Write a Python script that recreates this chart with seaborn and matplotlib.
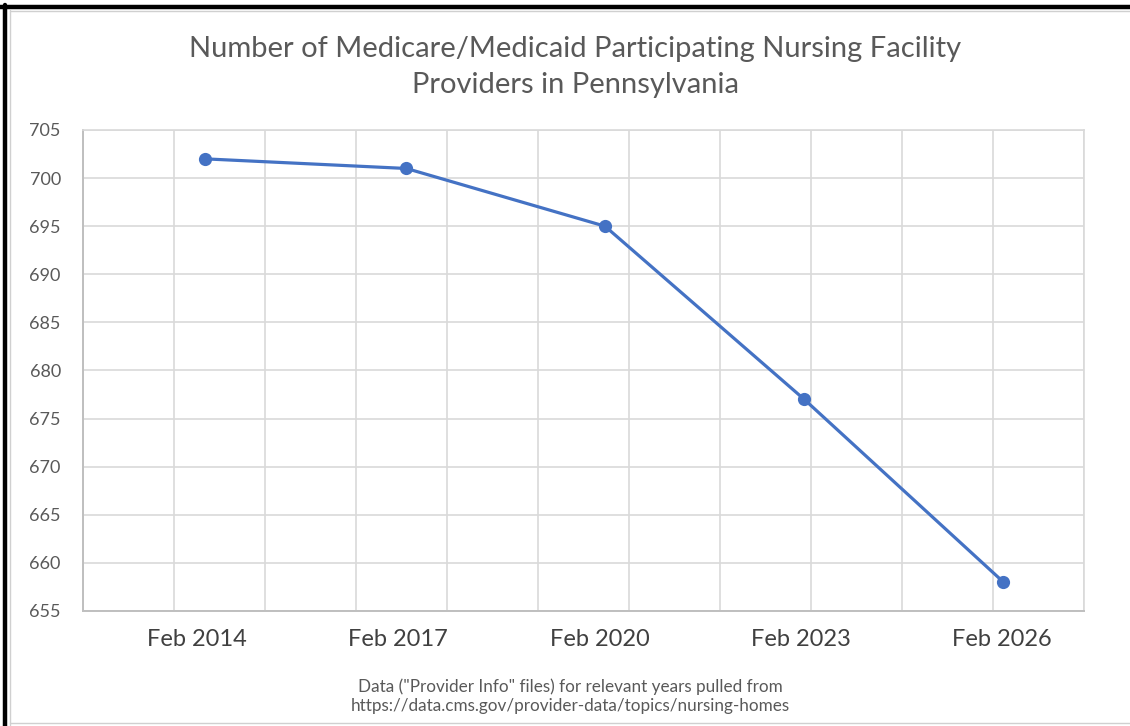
import numpy as np
import pandas as pd
import matplotlib
matplotlib.use('Agg')
import matplotlib.pyplot as plt
from matplotlib.lines import Line2D
import seaborn as sns

# Values (x as decimal years, labels sit on Feb of each year)
point_years = [2014.12, 2017.12, 2020.08, 2023.05, 2026.02]
providers = [702, 701, 695, 677, 658]
label_years = [2014, 2017, 2020, 2023, 2026]
label_text = ['Feb 2014', 'Feb 2017', 'Feb 2020', 'Feb 2023', 'Feb 2026']
y_ticks = list(range(655, 706, 5))

df = pd.DataFrame({'year': point_years, 'providers': providers})

sns.set_theme(style='white')
plt.rcParams['font.family'] = ['Lato', 'DejaVu Sans']

blue = '#4472C4'
grey_text = '#595959'
grid_col = '#D9D9D9'

fig = plt.figure(figsize=(11.3, 7.26), dpi=100)
ax = fig.add_axes([83 / 1130, 1 - 611 / 726, 1001 / 1130, 481 / 726])

sns.lineplot(data=df, x='year', y='providers', ax=ax, color=blue, linewidth=2.3,
             marker='o', markersize=9.5, markeredgewidth=0, markerfacecolor=blue)

# axis range and Excel-like grid (vertical grid every ~1.36 years)
x_left, x_right = 2012.30, 2027.22
ax.set_xlim(x_left, x_right)
ax.set_ylim(655, 705)
grid_x = np.linspace(x_left, x_right, 12)
ax.set_xticks(grid_x, minor=True)
ax.set_xticks(label_years, label_text)
ax.set_yticks(y_ticks)
ax.grid(axis='x', which='minor', color=grid_col, linewidth=1.2)
ax.grid(axis='y', which='major', color=grid_col, linewidth=1.2)
ax.grid(axis='x', which='major', visible=False)
ax.tick_params(axis='both', which='both', length=0)
ax.tick_params(axis='x', labelsize=17, pad=13, labelcolor='#404040')
ax.tick_params(axis='y', labelsize=13, pad=16, labelcolor=grey_text)
ax.set_xlabel('')
ax.set_ylabel('')
for side in ['top', 'right']:
    ax.spines[side].set_color(grid_col)
    ax.spines[side].set_linewidth(1.2)
for side in ['left', 'bottom']:
    ax.spines[side].set_color('#BFBFBF')
    ax.spines[side].set_linewidth(1.4)

fig.text(0.509, 1 - 67 / 726,
         'Number of Medicare/Medicaid Participating Nursing Facility\nProviders in Pennsylvania',
         ha='center', va='center', fontsize=21, color=grey_text, linespacing=1.45)
fig.text(0.505, 1 - 696 / 726,
         'Data ("Provider Info" files) for relevant years pulled from\n'
         'https://data.cms.gov/provider-data/topics/nursing-homes',
         ha='center', va='center', fontsize=12.3, color=grey_text, linespacing=1.25)

# screenshot frame
fig.add_artist(Line2D([0, 1], [1 - 7 / 726, 1 - 7 / 726], color='black', linewidth=3.2))
fig.add_artist(Line2D([5 / 1130, 5 / 1130], [0, 1 - 5 / 726], color='black', linewidth=3.2))
fig.add_artist(Line2D([10 / 1130, 10 / 1130], [1 / 726, 1 - 10 / 726], color='#D0D0D0', linewidth=1))
fig.add_artist(Line2D([10 / 1130, 1], [1 - 11 / 726, 1 - 11 / 726], color='#D0D0D0', linewidth=1))
fig.add_artist(Line2D([10 / 1130, 1], [3 / 726, 3 / 726], color='#D0D0D0', linewidth=1))

fig.savefig('out.png', dpi=100)
